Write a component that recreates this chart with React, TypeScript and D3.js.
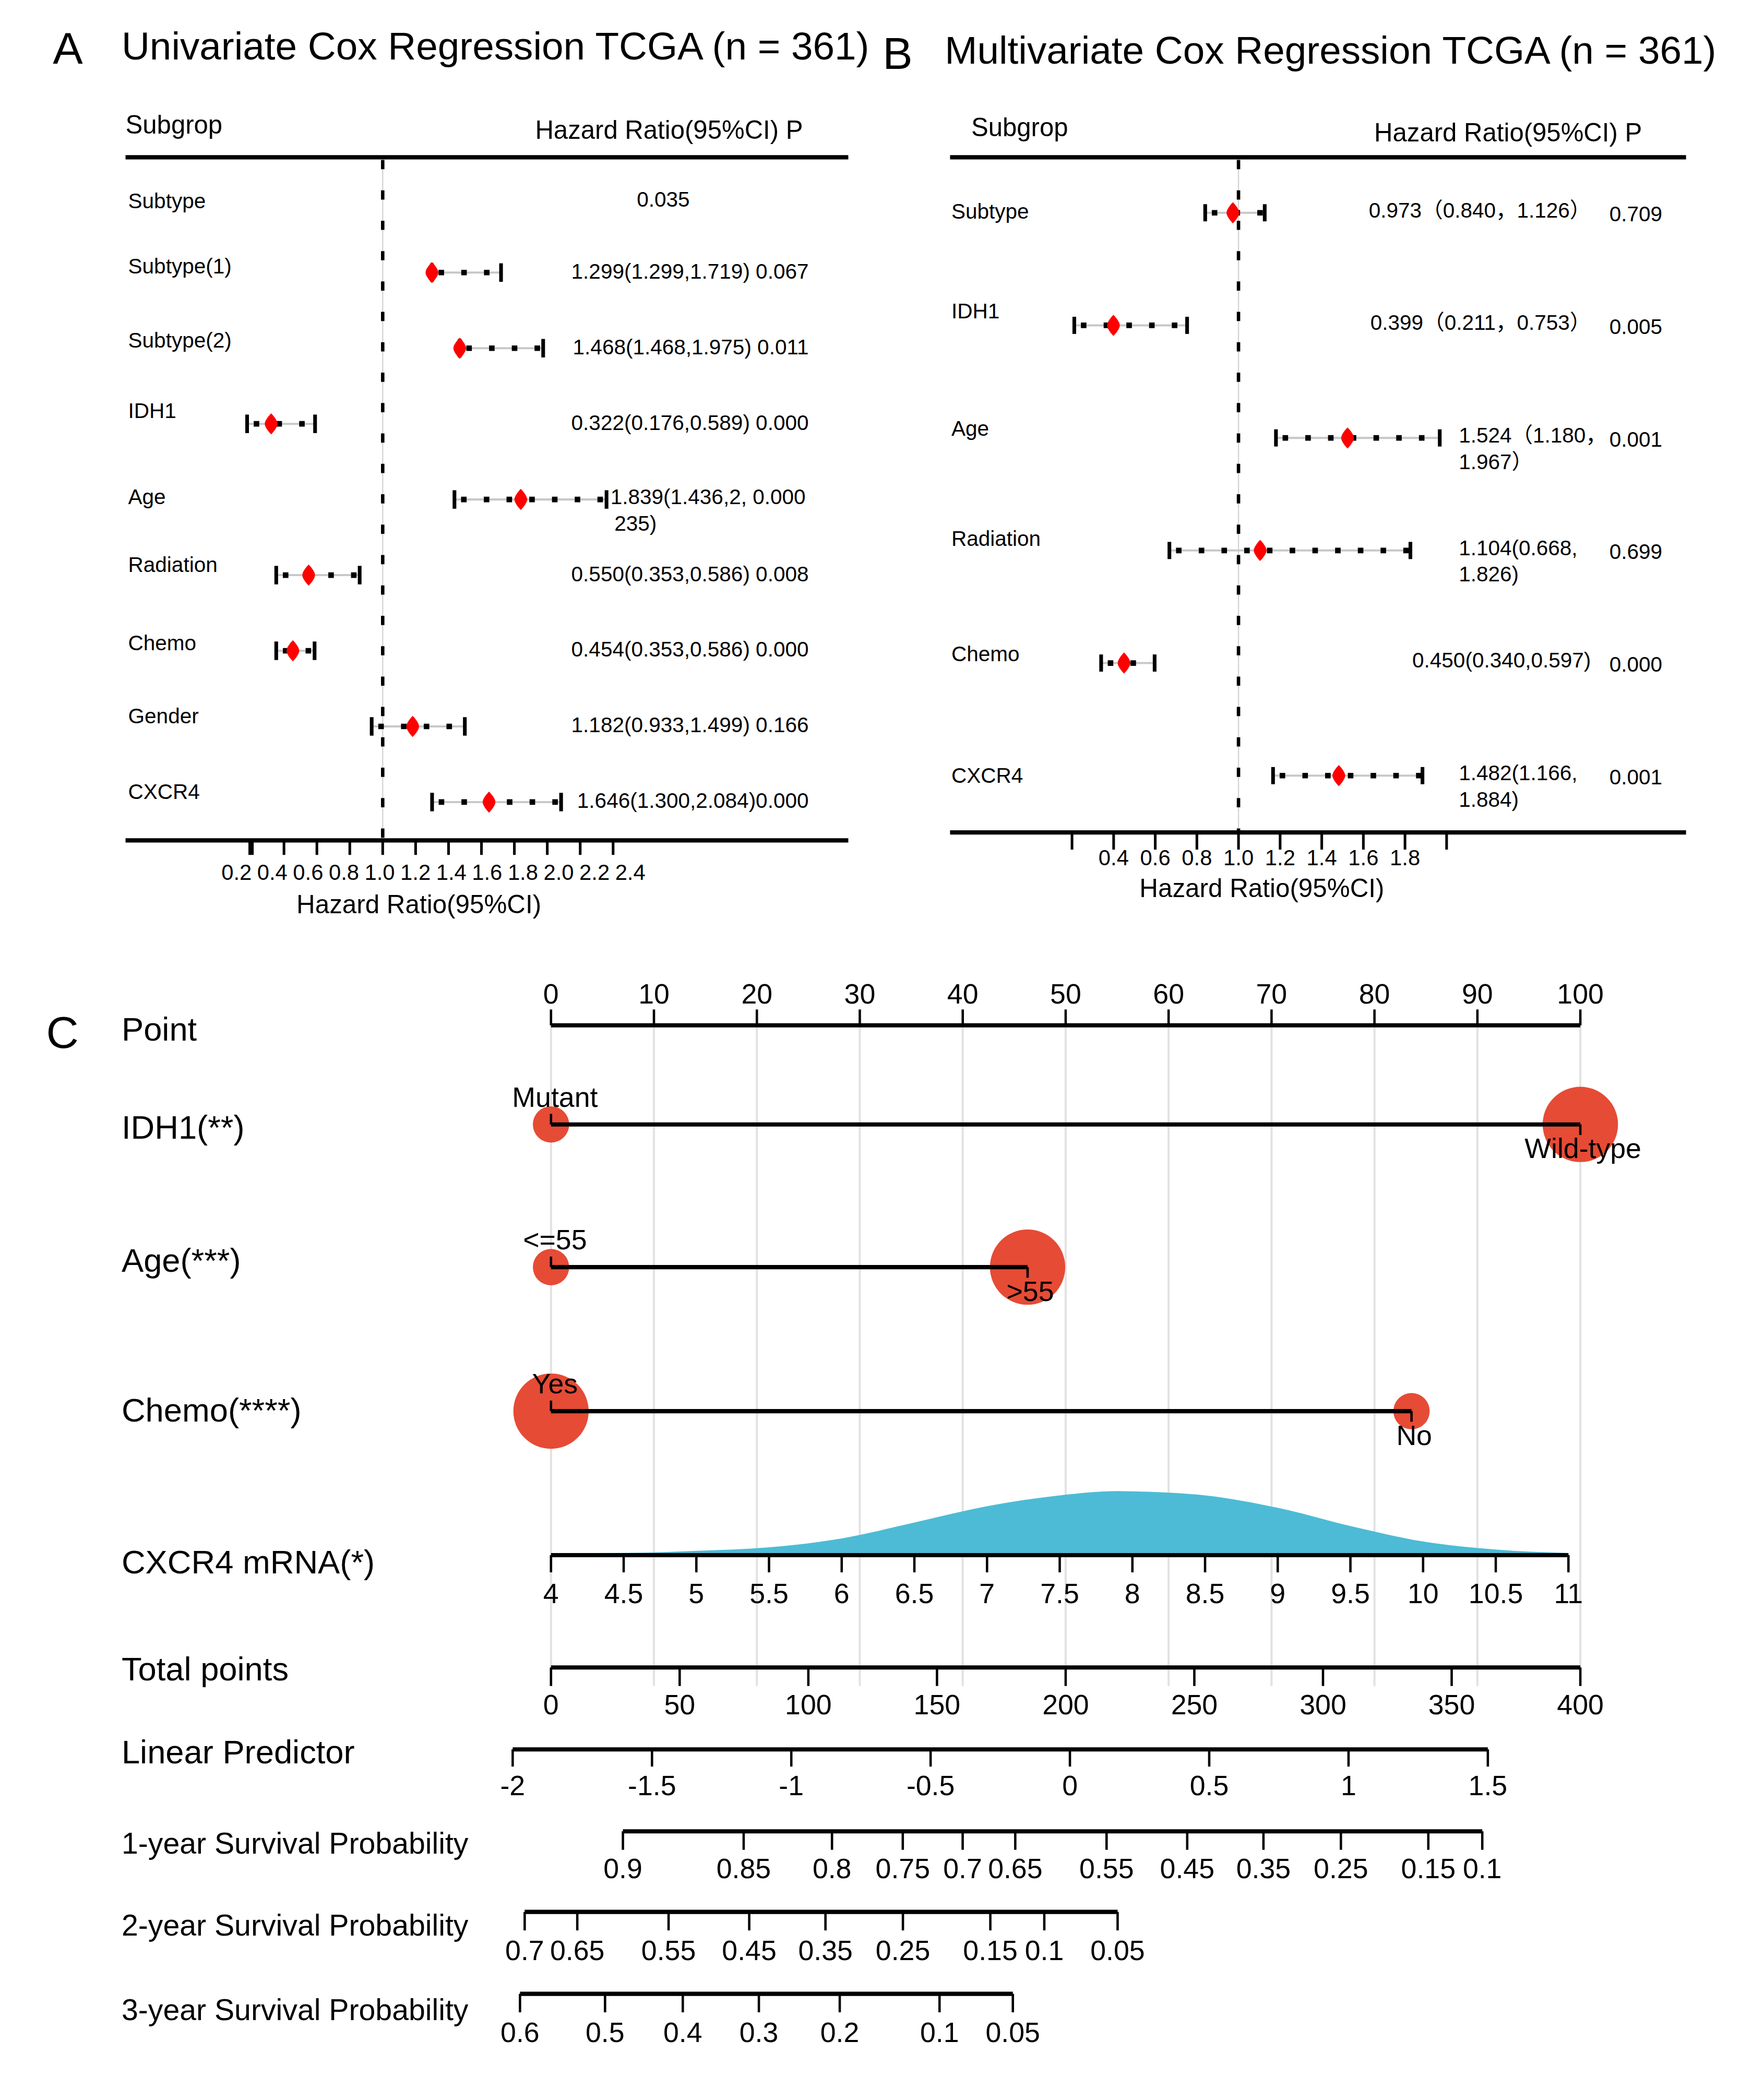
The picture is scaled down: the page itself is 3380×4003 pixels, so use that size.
import React from "react";
import * as d3 from "d3";

// ---------- panel A : univariate cox ----------
const uniLabels = ["Subtype", "Subtype(1)", "Subtype(2)", "IDH1", "Age", "Radiation", "Chemo", "Gender", "CXCR4"];
const uniHR = [NaN, 1.299, 1.468, 0.322, 1.839, 0.55, 0.454, 1.182, 1.646];
const uniLow = [NaN, 1.299, 1.468, 0.176, 1.436, 0.353, 0.353, 0.933, 1.3];
const uniHigh = [NaN, 1.719, 1.975, 0.589, 2.36, 0.86, 0.586, 1.499, 2.084];
const uniText = [
  ["0.035"],
  ["1.299(1.299,1.719) 0.067"],
  ["1.468(1.468,1.975) 0.011"],
  ["0.322(0.176,0.589) 0.000"],
  ["1.839(1.436,2, 0.000", "235)"],
  ["0.550(0.353,0.586) 0.008"],
  ["0.454(0.353,0.586) 0.000"],
  ["1.182(0.933,1.499) 0.166"],
  ["1.646(1.300,2.084)0.000"],
];
const uniTicks = [0.2, 0.4, 0.6, 0.8, 1.0, 1.2, 1.4, 1.6, 1.8, 2.0, 2.2, 2.4];

// ---------- panel B : multivariate cox ----------
const multiLabels = ["Subtype", "IDH1", "Age", "Radiation", "Chemo", "CXCR4"];
const multiHR = [0.973, 0.399, 1.524, 1.104, 0.45, 1.482];
const multiLow = [0.84, 0.211, 1.18, 0.668, 0.34, 1.166];
const multiHigh = [1.126, 0.753, 1.967, 1.826, 0.597, 1.884];
const multiCI = [
  ["0.973（0.840，1.126）"],
  ["0.399（0.211，0.753）"],
  ["1.524（1.180，", "1.967）"],
  ["1.104(0.668,", "1.826)"],
  ["0.450(0.340,0.597)"],
  ["1.482(1.166,", "1.884)"],
];
const multiP = ["0.709", "0.005", "0.001", "0.699", "0.000", "0.001"];
const multiTicks = [0.2, 0.4, 0.6, 0.8, 1.0, 1.2, 1.4, 1.6, 1.8, 2.0];
const multiTickLabels = [0.4, 0.6, 0.8, 1.0, 1.2, 1.4, 1.6, 1.8];

// ---------- panel C : nomogram ----------
const pointTicks = [0, 10, 20, 30, 40, 50, 60, 70, 80, 90, 100];
const idh1Levels = ["Mutant", "Wild-type"];
const idh1Points = [0, 100];
const idh1Sizes = [68, 293];
const ageLevels = ["<=55", ">55"];
const agePoints = [0, 46.3];
const ageSizes = [68, 293];
const chemoLevels = ["Yes", "No"];
const chemoPoints = [0, 83.6];
const chemoSizes = [293, 68];
const cxcrTicks = [4, 4.5, 5, 5.5, 6, 6.5, 7, 7.5, 8, 8.5, 9, 9.5, 10, 10.5, 11];
const cxcrDensX = [4, 4.5, 5, 5.5, 6, 6.5, 7, 7.5, 7.9, 8, 8.5, 9, 9.5, 10, 10.5, 11];
const cxcrDensY = [0.013, 0.014, 0.027, 0.049, 0.105, 0.205, 0.307, 0.375, 0.402, 0.4, 0.375, 0.297, 0.183, 0.086, 0.035, 0.013];
const totalTicks = [0, 50, 100, 150, 200, 250, 300, 350, 400];
const lpTicks = [-2, -1.5, -1, -0.5, 0, 0.5, 1, 1.5];
const surv1Ticks = [0.9, 0.85, 0.8, 0.75, 0.7, 0.65, 0.55, 0.45, 0.35, 0.25, 0.15, 0.1];
const surv2Ticks = [0.7, 0.65, 0.55, 0.45, 0.35, 0.25, 0.15, 0.1, 0.05];
const surv3Ticks = [0.6, 0.5, 0.4, 0.3, 0.2, 0.1, 0.05];
// log cumulative baseline hazard at 1, 2, 3 years
const logH0 = [-0.646, 0.926, 1.302];

// label nudges (layout only)
const uniLabelDy = [3, -5, -6, -10, -2, -8, -6, -8, -8];
const multiLabelDy = [-1, -11, -7, -9, -7, 0];

const FONT = "'Liberation Sans', Arial, 'Noto Sans CJK SC', sans-serif";
const W = 1335;
const H = 1581;
const RED = "#ff0000";
const DIAMOND = "M0,-8C2.8,-5 4.8,-2.2 4.8,0C4.8,2.2 2.8,5 0,8C-2.8,5 -4.8,2.2 -4.8,0C-4.8,-2.2 -2.8,-5 0,-8Z";

function CIBar({ x, y, hr, lo, hi, cap }: any) {
  return (
    <g>
      <line x1={x(lo)} x2={x(hi)} y1={y} y2={y} stroke="#c8c8c8" strokeWidth={1.6} />
      <line x1={x(lo)} x2={x(hi)} y1={y} y2={y} stroke="#000" strokeWidth={4.2} strokeDasharray="4.2 13" strokeDashoffset={-5} />
      <line x1={x(lo)} x2={x(lo)} y1={y - cap} y2={y + cap} stroke="#000" strokeWidth={2.8} />
      <line x1={x(hi)} x2={x(hi)} y1={y - cap} y2={y + cap} stroke="#000" strokeWidth={2.8} />
      <path d={DIAMOND} transform={`translate(${x(hr)},${y})`} fill={RED} />
    </g>
  );
}

function PanelA() {
  const x = d3.scaleLinear().domain([0.2, 2.4]).range([190, 464]);
  const xl = d3.scaleLinear().domain([0.2, 2.4]).range([179, 477]);
  const y = d3.scalePoint().domain(uniLabels).range([149, 607]);
  return (
    <g>
      <text x={40} y={48} fontSize={34}>A</text>
      <text x={92} y={45} fontSize={29.5}>Univariate Cox Regression TCGA (n = 361)</text>
      <text x={95} y={101} fontSize={19.4}>Subgrop</text>
      <text x={405} y={105} fontSize={19.4}>Hazard Ratio(95%CI) P</text>
      <line x1={95} x2={642} y1={119} y2={119} stroke="#000" strokeWidth={3.2} />
      <line x1={x(1)} x2={x(1)} y1={121} y2={636} stroke="#cfcfcf" strokeWidth={0.8} />
      <line x1={x(1)} x2={x(1)} y1={121} y2={636} stroke="#000" strokeWidth={2.6} strokeDasharray="7 16" />
      {uniLabels.map((lab, i) => {
        const ry = y(lab) as number;
        const lines = uniText[i];
        return (
          <g key={lab}>
            <text x={97} y={ry + uniLabelDy[i]} fontSize={16} dominantBaseline="central">{lab}</text>
            {!isNaN(uniHR[i]) && (
              <CIBar x={x} y={ry} hr={uniHR[i]} lo={uniLow[i]} hi={uniHigh[i]} cap={7} />
            )}
            {isNaN(uniHR[i]) ? (
              <text x={502} y={ry + 2} fontSize={16} textAnchor="middle" dominantBaseline="central">{lines[0]}</text>
            ) : lines.length === 1 ? (
              <text x={612} y={ry - 1} fontSize={16} textAnchor="end" dominantBaseline="central">{lines[0]}</text>
            ) : (
              lines.map((l, j) => (
                <text key={j} x={j === 0 ? 462 : 465} y={ry - 2 + j * 20} fontSize={16} dominantBaseline="central">{l}</text>
              ))
            )}
          </g>
        );
      })}
      <line x1={95} x2={642} y1={636} y2={636} stroke="#000" strokeWidth={3.2} />
      {uniTicks.map((t, i) => (
        <g key={t}>
          <line x1={x(t)} x2={x(t)} y1={636} y2={647} stroke="#000" strokeWidth={i === 0 ? 4 : 2} />
          <text x={xl(t)} y={666} fontSize={16.5} textAnchor="middle">{t.toFixed(1)}</text>
        </g>
      ))}
      <text x={317} y={691} fontSize={19.5} textAnchor="middle">Hazard Ratio(95%CI)</text>
    </g>
  );
}

function PanelB() {
  const x = d3.scaleLinear().domain([0.2, 2.0]).range([811.3, 1094.8]);
  const y = d3.scalePoint().domain(multiLabels).range([161, 587]);
  return (
    <g>
      <text x={668} y={52} fontSize={34}>B</text>
      <text x={715} y={48} fontSize={29.5}>Multivariate Cox Regression TCGA (n = 361)</text>
      <text x={735} y={103} fontSize={19.4}>Subgrop</text>
      <text x={1040} y={107} fontSize={19.4}>Hazard Ratio(95%CI) P</text>
      <line x1={719} x2={1276} y1={119} y2={119} stroke="#000" strokeWidth={3.2} />
      <line x1={x(1)} x2={x(1)} y1={121} y2={630} stroke="#cfcfcf" strokeWidth={0.8} />
      <line x1={x(1)} x2={x(1)} y1={121} y2={630} stroke="#000" strokeWidth={2.6} strokeDasharray="7 16" />
      {multiLabels.map((lab, i) => {
        const ry = y(lab) as number;
        const lines = multiCI[i];
        return (
          <g key={lab}>
            <text x={720} y={ry + multiLabelDy[i]} fontSize={16} dominantBaseline="central">{lab}</text>
            <CIBar x={x} y={ry} hr={multiHR[i]} lo={multiLow[i]} hi={multiHigh[i]} cap={6.5} />
            {lines.length === 1 ? (
              <text x={1204} y={ry - 2} fontSize={16} textAnchor="end" dominantBaseline="central">{lines[0]}</text>
            ) : (
              lines.map((l, j) => (
                <text key={j} x={1104} y={ry - 2 + j * 20} fontSize={16} dominantBaseline="central">{l}</text>
              ))
            )}
            <text x={1218} y={ry + 1} fontSize={16} dominantBaseline="central">{multiP[i]}</text>
          </g>
        );
      })}
      <line x1={719} x2={1276} y1={630} y2={630} stroke="#000" strokeWidth={3.2} />
      {multiTicks.map((t) => (
        <line key={t} x1={x(t)} x2={x(t)} y1={630} y2={643} stroke="#000" strokeWidth={2} />
      ))}
      {multiTickLabels.map((t) => (
        <text key={t} x={x(t)} y={655} fontSize={16.5} textAnchor="middle">{t.toFixed(1)}</text>
      ))}
      <text x={955} y={679} fontSize={19.5} textAnchor="middle">Hazard Ratio(95%CI)</text>
    </g>
  );
}

function AxisLine({ scale, ticks, y, up = false, fmt = (d: number) => String(d), labelDy, len = 13 }: any) {
  const a = scale(ticks[0]);
  const b = scale(ticks[ticks.length - 1]);
  return (
    <g>
      <line x1={a} x2={b} y1={y} y2={y} stroke="#000" strokeWidth={3.2} />
      {ticks.map((t: number, i: number) => (
        <g key={i}>
          <line x1={scale(t)} x2={scale(t)} y1={y} y2={up ? y - len : y + len} stroke="#000" strokeWidth={1.8} />
          <text x={scale(t)} y={y + labelDy} fontSize={21.2} textAnchor="middle" dominantBaseline="central">{fmt(t)}</text>
        </g>
      ))}
    </g>
  );
}

function FactorRow({ pts, size, y, levels, points, sizes }: any) {
  const x0 = pts(points[0]);
  const x1 = pts(points[1]);
  return (
    <g>
      {points.map((p: number, i: number) => (
        <circle key={i} cx={pts(p)} cy={y} r={size(sizes[i])} fill="#E64B35" />
      ))}
      <line x1={x0} x2={x1} y1={y} y2={y} stroke="#000" strokeWidth={3.2} />
      <line x1={x0} x2={x0} y1={y} y2={y - 8} stroke="#000" strokeWidth={1.8} />
      <line x1={x1} x2={x1} y1={y} y2={y + 8} stroke="#000" strokeWidth={1.8} />
      <text x={x0 + 3} y={y - 21} fontSize={21.2} textAnchor="middle" dominantBaseline="central">{levels[0]}</text>
      <text x={x1 + 2} y={y + 18} fontSize={21.2} textAnchor="middle" dominantBaseline="central">{levels[1]}</text>
    </g>
  );
}

function Nomogram() {
  const pts = d3.scaleLinear().domain([0, 100]).range([417, 1196]);
  const cx = d3.scaleLinear().domain([4, 11]).range([417, 1187]);
  const dy = d3.scaleLinear().domain([0, 0.402]).range([1177, 1128.5]);
  const tot = d3.scaleLinear().domain([0, 400]).range([417, 1196]);
  const lp = d3.scaleLinear().domain([-2, 1.5]).range([388, 1126]);
  const size = d3.scaleSqrt().domain([0, 293]).range([0, 28.5]);
  const survX = (k: number) => (s: number) => lp(Math.log(-Math.log(s)) - logH0[k]);

  const area = d3
    .area<number>()
    .x((_, i) => cx(cxcrDensX[i]))
    .y0(dy(0))
    .y1((d) => dy(d))
    .curve(d3.curveMonotoneX);

  const labels: [string, number, number][] = [
    ["Point", 779, 25],
    ["IDH1(**)", 853, 25],
    ["Age(***)", 954, 25],
    ["Chemo(****)", 1067, 25],
    ["CXCR4 mRNA(*)", 1182, 25],
    ["Total points", 1263, 25],
    ["Linear Predictor", 1326, 25],
    ["1-year Survival Probability", 1395, 22.6],
    ["2-year Survival Probability", 1457, 22.6],
    ["3-year Survival Probability", 1521, 22.6],
  ];

  return (
    <g>
      <text x={35} y={793} fontSize={34}>C</text>
      {labels.map(([t, ly, fs]) => (
        <text key={t} x={92} y={ly} fontSize={fs} dominantBaseline="central">{t}</text>
      ))}
      {pointTicks.map((t) => (
        <line key={t} x1={pts(t)} x2={pts(t)} y1={776} y2={1276} stroke="#e2e2e2" strokeWidth={1.6} />
      ))}
      <AxisLine scale={pts} ticks={pointTicks} y={776} up len={12} labelDy={-24} />
      <FactorRow pts={pts} size={size} y={851} levels={idh1Levels} points={idh1Points} sizes={idh1Sizes} />
      <FactorRow pts={pts} size={size} y={959} levels={ageLevels} points={agePoints} sizes={ageSizes} />
      <FactorRow pts={pts} size={size} y={1068} levels={chemoLevels} points={chemoPoints} sizes={chemoSizes} />
      <path d={area(cxcrDensY) as string} fill="#4DBBD5" />
      <AxisLine scale={cx} ticks={cxcrTicks} y={1177} len={13} labelDy={29} />
      <AxisLine scale={tot} ticks={totalTicks} y={1262} len={14} labelDy={28} />
      <AxisLine scale={lp} ticks={lpTicks} y={1324} len={13} labelDy={27} />
      <AxisLine scale={survX(0)} ticks={surv1Ticks} y={1386} len={14} labelDy={28} />
      <AxisLine scale={survX(1)} ticks={surv2Ticks} y={1447} len={14} labelDy={29} />
      <AxisLine scale={survX(2)} ticks={surv3Ticks} y={1509} len={14} labelDy={29} />
    </g>
  );
}

export default function App() {
  return (
    <svg
      width={3380}
      height={4003}
      viewBox={`0 0 ${W} ${H}`}
      style={{ position: "absolute", left: 0, top: 0, background: "#fff" }}
      fontFamily={FONT}
    >
      <rect width={W} height={H} fill="#fff" />
      <PanelA />
      <PanelB />
      <Nomogram />
    </svg>
  );
}
